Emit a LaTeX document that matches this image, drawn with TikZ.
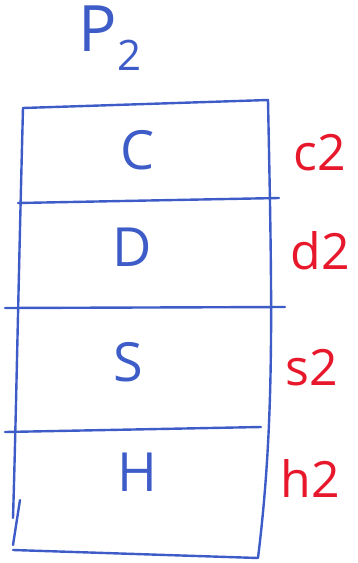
\documentclass[tikz,border=0pt]{standalone}
\usepackage{fontspec}
\setmainfont{Open Sans}
\definecolor{pen}{RGB}{62,92,200}
\definecolor{redpen}{RGB}{232,24,44}
\tikzset{
  stroke/.style={draw=pen, line width=2.4pt, line cap=round, line join=round},
  cell/.style={text=pen, font=\fontsize{54}{58}\selectfont, inner sep=0pt},
  side/.style={text=redpen, font=\fontsize{50}{54}\selectfont, inner sep=0pt},
}
\begin{document}
\begin{tikzpicture}[x=1pt,y=-1pt]
\useasboundingbox (0,0) rectangle (357,563);
% frame
\coordinate (tl) at (23,108);
\coordinate (tr) at (268,100);
\coordinate (br) at (258,558);
\coordinate (bl) at (13,550);
\draw[stroke] (tl) -- (tr) .. controls (272,300) and (275,420) .. (br) -- (bl);
\draw[stroke] (tl) .. controls (18,300) and (16,420) .. (13,518);
\draw[stroke] (20,500) -- (13,545);
% dividers
\coordinate (d1a) at (18,203); \coordinate (d1b) at (279,198);
\coordinate (d2a) at (5,308); \coordinate (d2b) at (285,307);
\coordinate (d3a) at (5,432); \coordinate (d3b) at (261,427);
\draw[stroke] (d1a) -- (d1b);
\draw[stroke] (d2a) -- (d2b);
\draw[stroke] (d3a) -- (d3b);
% labels
\node[text=pen, font=\fontsize{64}{68}\selectfont, inner sep=0pt] (p) at (110,38) {P\raisebox{-0.3em}{\fontsize{42}{44}\selectfont 2}};
\node[cell] (c) at (138,150) {C};
\node[cell] (d) at (132,247) {D};
\node[cell] (s) at (128,362) {S};
\node[cell] (h) at (137,472) {H};
\node[side] (c2) at (320,153) {c2};
\node[side] (d2) at (320,251) {d2};
\node[side] (s2) at (312,368) {s2};
\node[side] (h2) at (310,478) {h2};
\end{tikzpicture}
\end{document}
